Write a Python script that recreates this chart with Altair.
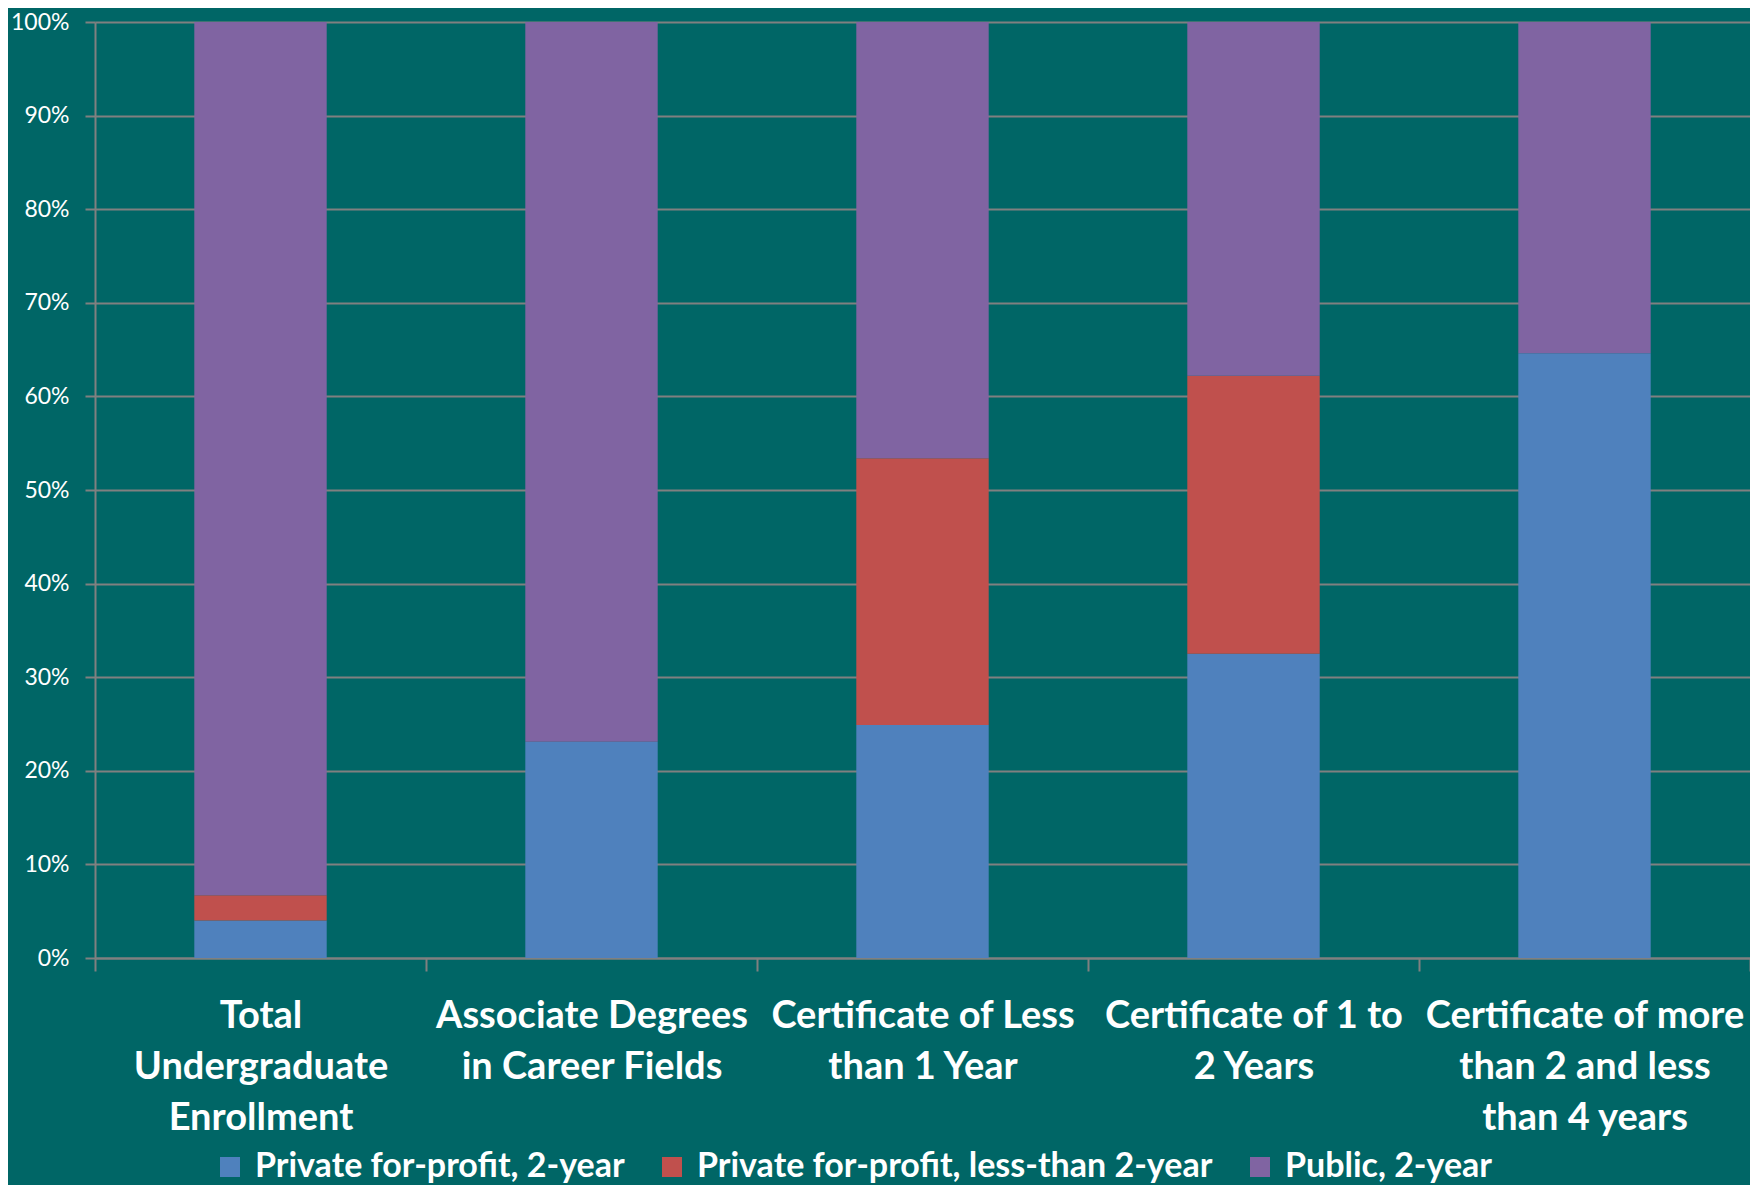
import altair as alt
import pandas as pd

categories = [
    "Total\nUndergraduate\nEnrollment",
    "Associate Degrees\nin Career Fields",
    "Certificate of Less\nthan 1 Year",
    "Certificate of 1 to\n2 Years",
    "Certificate of more\nthan 2  and less\nthan 4 years",
]
series = [
    "Private for-profit, 2-year",
    "Private for-profit, less-than 2-year",
    "Public, 2-year",
]
private_2yr = [4.0, 23.1, 24.9, 32.5, 64.6]
private_lt2yr = [2.7, 0.0, 28.5, 29.7, 0.0]
public_2yr = [93.3, 76.9, 46.6, 37.8, 35.4]
colors = ["#4F81BD", "#C0504D", "#8064A2"]
y_ticks = [0, 0.1, 0.2, 0.3, 0.4, 0.5, 0.6, 0.7, 0.8, 0.9, 1.0]

rows = []
for si, (name, vals) in enumerate(zip(series, [private_2yr, private_lt2yr, public_2yr])):
    for c, v in zip(categories, vals):
        rows.append({"category": c, "series": name, "value": v, "order": si})
df = pd.DataFrame(rows)

GRID = "#808080"
FONT = "Lato"

chart = (
    alt.Chart(df)
    .mark_bar(width={"band": 0.4})
    .encode(
        x=alt.X(
            "category:N",
            sort=categories,
            scale=alt.Scale(paddingInner=0, paddingOuter=0),
            axis=alt.Axis(
                title=None,
                labelAngle=0,
                labelExpr="split(datum.label, '\\n')",
                labelFont=FONT,
                labelFontSize=38,
                labelFontWeight="bold",
                labelColor="white",
                labelLineHeight=51,
                labelPadding=26,
                labelLimit=400,
                labelOverlap=False,
                tickBand="extent",
                tickSize=13,
                tickWidth=2,
                tickColor=GRID,
                domainColor=GRID,
                domainWidth=2,
                grid=False,
            ),
        ),
        y=alt.Y(
            "value:Q",
            stack="normalize",
            scale=alt.Scale(domain=[0, 1]),
            axis=alt.Axis(
                title=None,
                values=y_ticks,
                format=".0%",
                labelFont=FONT,
                labelFontSize=23,
                labelColor="white",
                labelPadding=16,
                tickSize=10,
                tickWidth=2,
                tickColor=GRID,
                domainColor=GRID,
                domainWidth=2,
                gridColor=GRID,
                gridWidth=2,
            ),
        ),
        color=alt.Color(
            "series:N",
            sort=series,
            scale=alt.Scale(domain=series, range=colors),
            legend=alt.Legend(
                title=None,
                orient="none",
                legendX=118,
                legendY=1128,
                direction="horizontal",
                columns=3,
                columnPadding=30,
                symbolType="square",
                symbolSize=400,
                symbolStrokeWidth=0,
                labelOffset=8,
                labelFont=FONT,
                labelFontSize=34,
                labelFontWeight="bold",
                labelColor="white",
                labelLimit=700,
            ),
        ),
        order=alt.Order("order:Q", sort="ascending"),
    )
    .properties(
        width=1655,
        height=936,
        background="#006666",
        autosize=alt.AutoSizeParams(type="none"),
        padding={"left": 87, "top": 14, "right": 0, "bottom": 227},
    )
    .configure_view(stroke=None)
)

chart.save("out.html", embed_options={"renderer": "svg", "actions": False})
